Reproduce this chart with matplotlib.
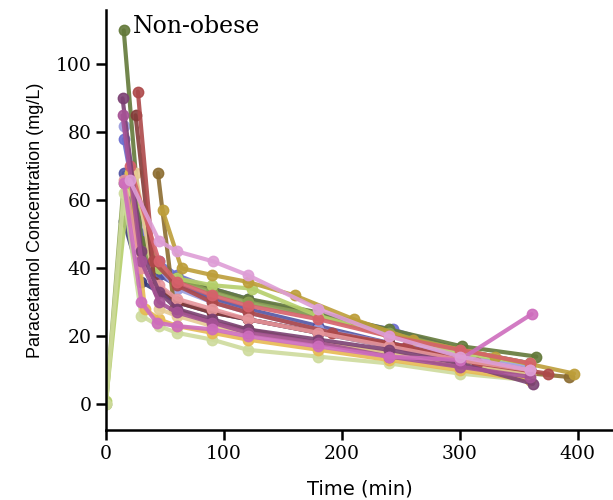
import matplotlib
matplotlib.use("Agg")
import matplotlib.pyplot as plt

colors = ["#393b79", "#5254a3", "#6b6ecf", "#9c9ede", "#637939", "#8ca252",
          "#b5cf6b", "#cedb9c", "#8c6d31", "#bd9e39", "#e7ba52", "#e7cb94",
          "#843c39", "#ad494a", "#d6616b", "#e7969c", "#7b4173", "#a55194",
          "#ce6dbd", "#de9ed6"]

times = [
    [15, 30, 45, 60, 90, 120, 180, 240, 300, 360],
    [15, 30, 45, 60, 90, 120, 180, 240, 300, 360],
    [15, 30, 45, 60, 90, 120, 180, 243, 300, 360],
    [15, 30, 45, 60, 90, 120, 180, 240, 300, 360],
    [15, 30, 45, 60, 90, 120, 180, 240, 302, 365],
    [0, 15, 30, 45, 60, 90, 120, 180, 240, 300, 360],
    [0, 20, 45, 60, 90, 124, 180, 240, 300, 360],
    [0, 15, 30, 45, 60, 90, 120, 180, 240, 300, 360],
    [44, 58, 90, 120, 180, 240, 300, 393],
    [48, 64, 90, 120, 160, 210, 260, 330, 397],
    [20, 33, 45, 60, 90, 120, 180, 240, 300, 360],
    [25, 45, 60, 90, 120, 180, 240, 300, 360],
    [25, 41, 60, 90, 120, 180, 240, 300, 360],
    [27, 40, 60, 90, 120, 192, 255, 315, 375],
    [20, 45, 60, 90, 120, 180, 240, 300, 360],
    [15, 30, 45, 60, 90, 120, 180, 240, 300, 360],
    [14, 30, 45, 60, 90, 120, 180, 240, 300, 362],
    [14, 30, 45, 60, 90, 120, 180, 240, 300, 360],
    [15, 30, 43, 60, 90, 120, 180, 240, 300, 361],
    [20, 45, 60, 91, 120, 180, 240, 300, 360],
]

conc = [
    [54, 36, 33, 30, 27, 25, 21, 17, 13, 10],
    [68, 45, 38, 35, 31, 28, 23, 18, 14, 10],
    [78, 50, 42, 38, 34, 31, 26, 22, 16, 12],
    [82, 55, 40, 34, 30, 27, 22, 18, 14, 11],
    [110, 48, 40, 37, 34, 31, 27, 22, 17, 14],
    [0, 65, 45, 40, 37, 33, 30, 26, 21, 16, 12],
    [1, 68, 40, 37, 35, 34, 26, 20, 15, 12],
    [0, 62, 26, 23, 21, 19, 16, 14, 12, 9, 7],
    [68, 28, 24, 22, 18, 15, 11, 8],
    [57, 40, 38, 36, 32, 25, 19, 14, 9],
    [68, 28, 25, 23, 21, 19, 16, 13, 10, 7],
    [68, 28, 26, 23, 21, 18, 15, 12, 9],
    [85, 36, 30, 27, 25, 21, 18, 13, 10],
    [92, 42, 35, 30, 27, 21, 17, 12, 9],
    [70, 42, 36, 32, 29, 25, 20, 16, 12],
    [66, 40, 35, 31, 28, 25, 21, 17, 13, 10],
    [90, 45, 33, 28, 25, 22, 19, 16, 12, 6],
    [85, 42, 30, 27, 24, 21, 18, 14, 11, 8],
    [65, 30, 24, 23, 22, 20, 17, 14, 13, 26.5],
    [66, 48, 45, 42, 38, 28, 20, 14, 10],
]

fig = plt.figure(figsize=(6.13, 5.0), dpi=100)
ax = fig.add_axes([0.173, 0.14, 0.827, 0.84])

for t, c, col in zip(times, conc, colors):
    ax.plot(t, c, color=col, lw=3.0, marker="o", ms=7.5, alpha=0.9,
            solid_capstyle="round")

ax.set_xlim(0, 430)
ax.set_ylim(-7.6, 116)
ax.set_xticks([0, 100, 200, 300, 400])
ax.set_yticks([0, 20, 40, 60, 80, 100])
for s in ["top", "right"]:
    ax.spines[s].set_visible(False)
for s in ["left", "bottom"]:
    ax.spines[s].set_linewidth(1.8)
ax.tick_params(width=1.8, length=7, labelsize=13.5)
for lab in ax.get_xticklabels() + ax.get_yticklabels():
    lab.set_family("DejaVu Serif")

ax.set_xlabel("Time (min)", fontsize=14, family="DejaVu Sans", labelpad=12)
ax.set_ylabel("Paracetamol Concentration (mg/L)", fontsize=13,
              family="Liberation Sans", labelpad=8)
ax.text(23, 111, "Non-obese", fontsize=17, family="DejaVu Serif",
        va="center", ha="left")

fig.savefig("out.png", dpi=100)
